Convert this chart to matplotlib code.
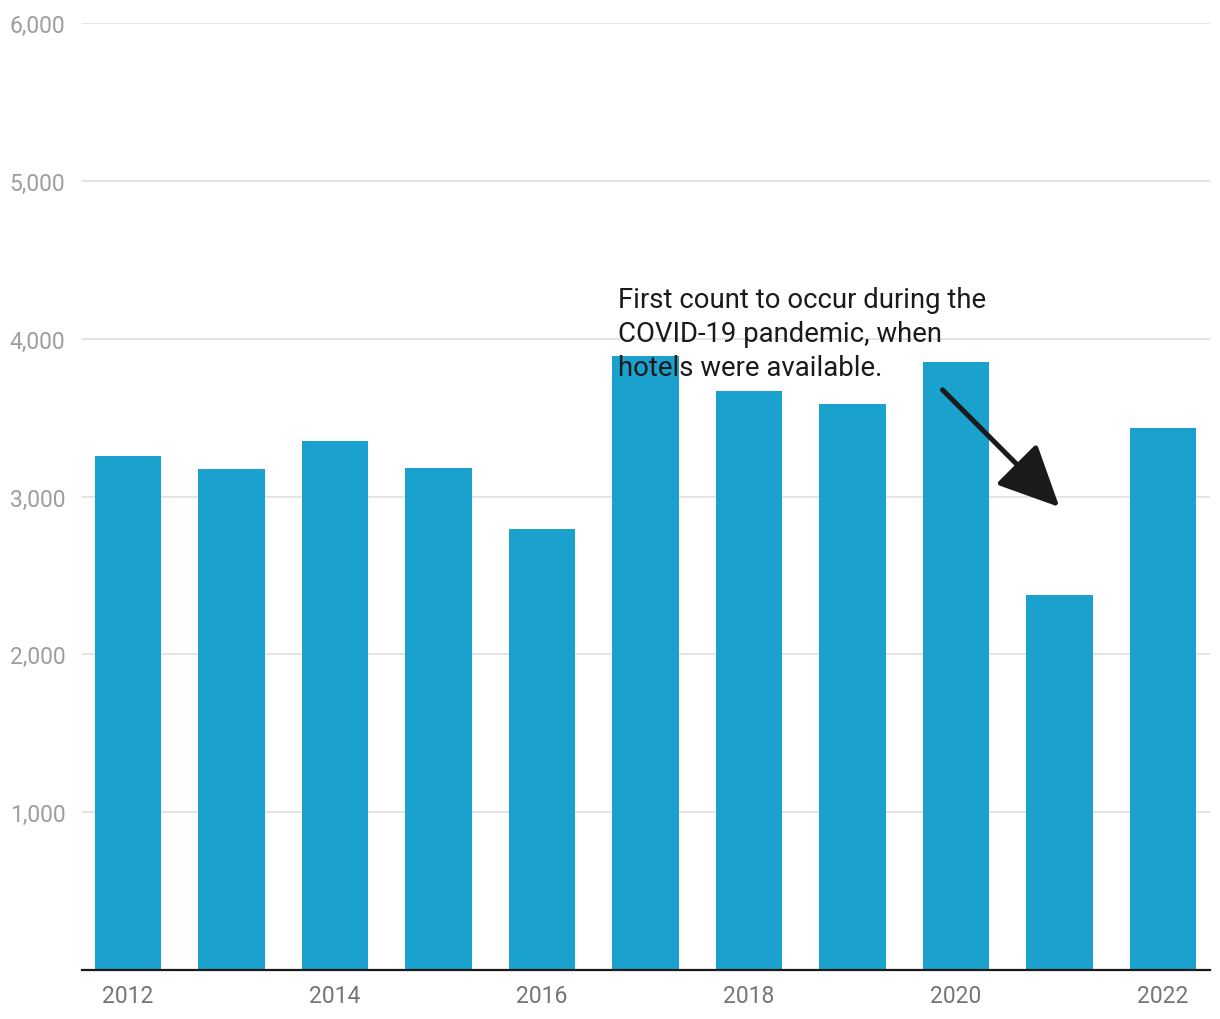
import matplotlib.pyplot as plt
import numpy as np

# data
years = np.arange(2012, 2023)
counts = [3257, 3175, 3352, 3181, 2794, 3892, 3670, 3587, 3854, 2375, 3435]
xtick_years = [2012, 2014, 2016, 2018, 2020, 2022]
yticks = [1000, 2000, 3000, 4000, 5000, 6000]
note = "First count to occur during the\nCOVID-19 pandemic, when\nhotels were available."

plt.rcParams["font.family"] = ["Roboto", "DejaVu Sans"]

fig = plt.figure(figsize=(12.2, 10.2), dpi=100)
ax = fig.add_axes([82 / 1220, 49 / 1020, (1210 - 82) / 1220, (996 - 49) / 1020])

ax.bar(years, counts, width=0.64, color="#1aa1cd", zorder=2)

ax.set_xlim(2011.555, 2022.455)
ax.set_ylim(0, 6000)

ax.set_yticks(yticks)
ax.set_yticklabels([f"{v:,}" for v in yticks])
ax.set_xticks(xtick_years)
ax.set_xticklabels([str(y) for y in xtick_years])

ax.grid(axis="y", color="#e2e2e2", linewidth=1.3, zorder=0)
ax.set_axisbelow(True)

for side in ["top", "right", "left"]:
    ax.spines[side].set_visible(False)
ax.spines["bottom"].set_color("#1a1a1a")
ax.spines["bottom"].set_linewidth(1.6)
ax.spines["bottom"].set_zorder(3)

ax.tick_params(axis="y", length=0, pad=52, labelsize=16.5, labelcolor="#9e9e9e")
ax.tick_params(axis="x", length=0, pad=10, labelsize=16.5, labelcolor="#757575")
for label in ax.get_yticklabels():
    label.set_horizontalalignment("left")

# annotation text and arrow
ax.text(2016.73, 4335, note, fontsize=19.8, color="#1a1a1a", va="top", ha="left",
        linespacing=1.34, zorder=4)
ax.annotate("", xy=(2021.0, 2933), xytext=(2019.87, 3676),
            arrowprops=dict(arrowstyle="-|>,head_length=1.9,head_width=0.9",
                            color="#1a1a1a", lw=3.6, mutation_scale=20,
                            shrinkA=0, shrinkB=0),
            zorder=4)

fig.savefig("out.png", dpi=100)
